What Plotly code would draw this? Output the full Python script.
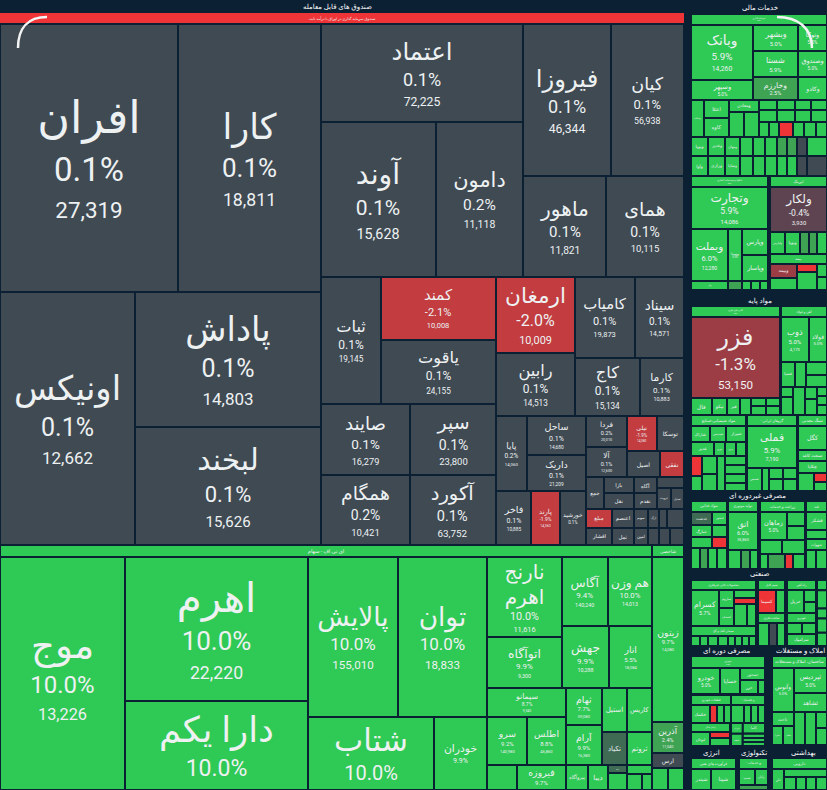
import math
import plotly.graph_objects as go

W = 827
H = 790
BG = "#0b2033"
TXT = "#eef1f2"
FONT = "Roboto, DejaVu Sans, sans-serif"

# funds, top left block
FUND_BAND_NAME = ["صندوق سرمایه گذاری در اوراق با درآمد ثابت"]
FUND_PATH = ["000", "001", "010", "0110", "0111",
             "1000", "10010", "10011", "10100", "10101", "10110", "10111",
             "11000", "110010", "110011", "110100", "110101", "110110", "110111",
             "111000", "111001", "1110100", "1110101", "1110110", "1110111",
             "1111000", "11110010", "11110011", "1111010", "1111011", "1111012",
             "11111000", "11111001", "111110100", "111110101", "111110110", "111110111",
             "1111110", "11111110", "11111111", "11111120", "11111121", "11111130", "111111310", "111111311",
             "11111200", "11111201", "11111210", "11111211", "11111220", "11111221", "11111230", "11111231",
             "111112400", "111112401", "111112410", "111112411"]
FUND_AREA = [47704, 38324, 34155, 25110, 21948,
             19796, 17825, 13485, 13376, 11096, 8383, 7878,
             7620, 7245, 7360, 6319, 6230, 6106, 6020,
             6004, 4977, 4860, 3969, 3770, 2552,
             2325, 2301, 2124, 1890, 1566, 1404,
             1271, 1230, 1050, 945, 858, 624,
             576, 480, 480, 368, 368, 297, 294, 273,
             494, 442, 418, 374, 266, 238, 209, 187,
             152, 323, 187, 238]
FUND_NAME = ["افران", "کارا", "اونیکس", "پاداش", "لبخند",
             "اعتماد", "آوند", "دامون", "فیروزا", "کیان", "ماهور", "همای",
             "ثبات", "کمند", "یاقوت", "صایند", "همگام", "سپر", "آکورد",
             "ارمغان", "رابین", "کامیاب", "سیناد", "کاج", "کارما",
             "پایا", "ساحل", "داریک", "فاخر", "پارند", "خورشید",
             "فردا", "آلا", "نیلی", "توسکا", "اصیل", "نفقی",
             "جمع", "بازا", "نقل", "آگاه", "نقدم", "", "ثروت", "تعدیل",
             "مبلغ", "افشار", "اعتصم", "ثمل", "سهیم", "امین", "ارگ", "", "", "", "", ""]
FUND_CHANGE = [0.1, 0.1, 0.1, 0.1, 0.1,
               0.1, 0.1, 0.2, 0.1, 0.1, 0.1, 0.1,
               0.1, -2.1, 0.1, 0.1, 0.2, 0.1, 0.1,
               -2.0, 0.1, 0.1, 0.1, 0.1, 0.1,
               0.2, 0.1, 0.1, 0.1, -1.9, 0.1,
               0.2, 0.1, -1.9, 0.1, 0.1, -1.9,
               0.1, 0.1, 0.1, 0.1, 0.1, 0.1, 0.1, 0.1,
               -1.9, 0.1, 0.1, 0.1, 0.1, 0.1, 0.1, 0.1, 0.1, 0.1, 0.1, 0.1]
FUND_VOLUME = [27319, 18811, 12662, 14803, 15626,
               72225, 15628, 11118, 46344, 56938, 11821, 10115,
               19145, 10008, 24155, 16279, 10421, 23800, 63752,
               10009, 14513, 19873, 14571, 15134, 10883,
               14060, 14680, 21209, 10885, 14360, 0,
               20010, 12600, 14380, 0, 0, 0] + [0] * 20
FUND_PX = [33, 26, 25, 25, 22,
           18, 21, 15.5, 18, 13, 15, 14,
           12, 11, 12, 13.5, 14, 14, 14.5,
           16, 12, 11, 10, 12, 8,
           6.5, 7, 7, 7, 5, 5.5,
           5.5, 5.5, 4.5, 4.5, 4.5, 4.5] + [4] * 20

# equity ETFs, bottom left block
ETF_PATH = ["00", "010", "0110", "0111", "01200", "01201", "01210", "01211",
            "013000", "013001", "0130100", "0130101", "0130110", "0130111",
            "013100", "0131010", "0131011", "013110", "013111", "0131200", "0131201", "0131210", "0131211",
            "01320", "01321", "01322", "01323", "013240", "013241", "013250", "0132510", "0132511",
            "10", "11", "12", "13", "140", "141"]
ETF_AREA = [7824, 29125, 26352, 16287, 14400, 14240, 9198, 3869,
            6000, 3825, 3174, 3036, 2914, 2666,
            2291, 1920, 1872, 1332, 1440, 1100, 1100, 825, 825,
            750, 1225, 550, 500, 152, 323, 225, 240, 160,
            384, 5280, 992, 480, 352, 352]
ETF_NAME = ["ای تی اف - سهام", "موج", "اهرم", "دارا یکم", "پالایش", "توان", "شتاب", "خودران",
            "نارنج|اهرم", "اتوآگاه", "آگاس", "هم وزن", "جهش", "انار",
            "سیمانو", "سرو", "اطلس", "ثهام", "آرام", "استیل", "کاریس", "تکیاد", "ثروتم",
            "", "فیروزه", "پیروآگاه", "دیبا", "بیمه", "", "", "", "",
            "شاخصی", "زیتون", "آذرین", "ارس", "", ""]
ETF_CHANGE = [10.0, 10.0, 10.0, 10.0, 10.0, 10.0, 10.0, 9.9,
              10.0, 9.9, 9.4, 10.0, 9.9, 5.5,
              8.7, 9.2, 8.8, 7.7, 9.9, 9.0, 9.0, 0.9, 5.0,
              9.0, 9.7, 8.0, 8.0, 0.9, 8.0, 8.0, 8.0, 8.0,
              9.0, 9.7, 2.4, 0.1, 8.0, 8.0]
ETF_VOLUME = [0, 13226, 22220, 0, 155010, 18833, 0, 0,
              11616, 9300, 140240, 14013, 10288, 18084,
              9340, 140980, 46860, 59080, 16380, 0, 0, 0, 0,
              0, 0, 0, 0, 0, 0, 0, 0, 0,
              0, 14080, 11040, 0, 0, 0]
ETF_PX = [4.5, 24, 26, 23, 17, 17, 20, 7,
          12, 8, 8, 8, 8, 6,
          5, 6, 6, 6, 6, 4.5, 4.5, 4.5, 4.5,
          4, 6.5, 4.5, 4.5, 3.5, 4, 4, 4, 4,
          4, 6, 5.5, 4, 4, 4]

# financial services column
INVEST_PATH = ["00", "0100", "0101", "0110", "0111", "0112", "0120", "0121", "0122",
               "020", "0210", "0211", "0220", "02210", "02211",
               "02300", "02301", "02302", "02303", "02310", "02311", "02312", "02313",
               "02320", "02321", "02322", "02323", "02324", "02325",
               "030", "031", "032", "033", "034", "035", "036", "037", "038", "039",
               "040", "041", "042", "043", "044", "045", "046", "047", "048", "049"]
INVEST_AREA = [1496, 3410, 1240, 1170, 1170, 1035, 754, 754, 667,
               481, 450, 475, 360, 375, 375,
               180, 180, 160, 160, 216, 216, 192, 192,
               150, 150, 210, 165, 180, 165,
               323, 323, 285, 247, 228, 228, 190, 190, 190, 380,
               340, 340, 300, 260, 240, 240, 200, 200, 200, 400]
INVEST_NAME = ["سرمایه گذاری", "وبانک", "وسپهر", "وبشهر", "شستا", "وخارزم", "وتوکا", "وصندوق", "وکادو",
               "وسکاب", "اعتلا", "کاوه", "ومعادن", "", "",
               "", "", "", "", "", "", "", "", "", "", "", "", "", "",
               "وپویا", "وغدیر", "ومهان", "", "", "", "", "", "", "",
               "وآوا", "ورازی", "وساپا", "", "", "", "", "", "", ""]
INVEST_CHANGE = [5.0, 5.9, 5.0, 5.0, 5.9, 2.5, 5.0, 5.0, 5.0,
                 5.0, 5.0, 5.0, 5.0, 5.0, 5.0,
                 5.0, 5.0, 5.0, 5.0, 5.0, 5.0, 5.0, 5.0,
                 5.0, 5.0, -4.0, 5.0, 5.0, 5.0,
                 5.0, 5.0, 5.0, 5.0, 5.0, 5.0, 2.5, 2.5, 0.1, 5.0,
                 5.0, 5.0, 5.0, 5.0, 5.0, 5.0, 5.0, 5.0, 0.1, 0.1]
INVEST_VOLUME = [0, 14260] + [0] * 47

BANK_PATH = ["00", "01", "020", "021", "0220", "0221", "030", "031", "032", "033", "034"]
BANK_AREA = [847, 3234, 1924, 728, 676, 676, 333, 126, 81, 81, 72]
BANK_NAME = ["بانکها و موسسات اعتباری", "وتجارت", "وبملت", "وسینا", "وپارس", "وپاسار", "وکار", "", "", "", ""]
BANK_CHANGE = [5.0, 5.9, 6.0, 5.0, 5.0, 5.0, 5.0, 2.5, 5.0, 5.0, 5.0]
BANK_VOLUME = [0, 14086, 12280, 0, 0, 0, 0, 0, 0, 0, 0]

LEASE_PATH = ["00", "01", "020", "021", "022", "023", "024"]
LEASE_AREA = [627, 2565, 330, 330, 198, 176, 220]
LEASE_NAME = ["لیزینگ", "ولکار", "ولپارس", "وپویا", "", "", ""]
LEASE_CHANGE = [5.0, -0.4, 5.0, 5.0, 2.5, 2.5, 5.0]
LEASE_VOLUME = [0, 3930, 0, 0, 0, 0, 0]

INSURE_PATH = ["00", "0100", "0101", "0110", "0111", "0120", "0121"]
INSURE_AREA = [570, 378, 324, 160, 360, 130, 130]
INSURE_NAME = ["بیمه", "وبیمه", "", "", "", "", ""]
INSURE_CHANGE = [5.0, -1.3, 5.0, -4.0, 5.0, 5.0, 5.0]

# basic materials
ORE_PATH = ["00", "01", "020", "021", "022", "023", "02400", "02401", "02410", "02411"]
ORE_AREA = [979, 7209, 357, 255, 221, 187, 120, 112, 135, 126]
ORE_NAME = ["کانی های فلزی", "فزر", "فال", "تپکو", "فبر", "", "", "", "", ""]
ORE_CHANGE = [5.0, -1.3, 5.0, 5.0, 5.0, 5.0, 5.0, 5.0, 5.0, 5.0]
ORE_VOLUME = [0, 53150, 0, 0, 0, 0, 0, 0, 0, 0]
ORE_PX = [5.5, 17, 4, 4, 4, 4, 4, 4, 4, 4]

STEEL_PATH = ["00", "010", "011", "020", "021", "0220", "0221",
              "0300", "0301", "031", "0320", "0321", "0330", "0331", "0332"]
STEEL_AREA = [506, 1260, 810, 350, 275, 273, 252, 120, 216, 336, 144, 192, 90, 90, 100]
STEEL_NAME = ["آهن و فولاد", "ذوب", "فولاد", "فسپا", "", "", "", "", "", "", "", "", "", "", ""]
STEEL_CHANGE = [5.0] * 15
STEEL_VOLUME = [0, 4170] + [0] * 13

CHEM_PATH = ["00", "010", "011", "012", "020", "021", "022", "023",
             "0300", "0301", "0310", "0311", "032", "0330", "0331", "0332", "0333"]
CHEM_AREA = [605, 304, 256, 320, 322, 154, 154, 140, 220, 165, 270, 255, 280, 189, 189, 189, 168]
CHEM_NAME = ["مواد شیمیایی-صنایع", "شاراک", "شپدیس", "شیراز", "غدیر", "نوری", "پترول", "",
             "", "", "", "", "", "", "", "", ""]
CHEM_CHANGE = [5.0, 5.0, 5.0, 5.0, 5.0, 5.0, 5.0, 5.0, -4.0, 5.0, 5.0, 5.0, 5.0, 5.0, 5.0, 5.0, 5.0]

METAL_PATH = ["00", "01", "020", "021", "0220", "0221", "0230", "0231"]
METAL_AREA = [550, 2100, 345, 161, 154, 168, 154, 168]
METAL_NAME = ["- گروهای ایرانی", "فملی", "شمس", "", "", "", "", ""]
METAL_CHANGE = [5.0, 5.9, 5.0, 5.0, 5.0, 5.0, 5.0, 5.0]
METAL_VOLUME = [0, 7190, 0, 0, 0, 0, 0, 0]

MINE_PATH = ["00", "01", "02", "03", "040", "0410", "0411"]
MINE_AREA = [319, 696, 319, 348, 288, 117, 117]
MINE_NAME = ["سنگ معدنی", "کگل", "صنعت کاغذ", "چکاپا", "", "", ""]
MINE_CHANGE = [5.0, 5.0, 5.0, 5.0, 5.0, -4.0, 5.0]

# non cyclical consumer
FOOD_PATH = ["00", "010", "011", "020", "021", "030", "031", "040", "041", "042", "043"]
FOOD_AREA = [396, 273, 195, 252, 180, 231, 165, 189, 168, 189, 210]
FOOD_NAME = ["مواد غذایی", "غدشت", "غبشهر", "غمارگ", "", "", "", "", "", "", ""]
FOOD_CHANGE = [5.0, 1.0, 5.0, 5.0, 5.0, 5.0, -4.0, 5.0, 2.5, 5.0, 5.0]

AUTO_PATH = ["00", "01", "020", "021", "022"]
AUTO_AREA = [330, 1140, 247, 171, 152]
AUTO_NAME = ["تولید موتوری", "اتق", "", "", ""]
AUTO_CHANGE = [5.0, 6.0, 5.0, 2.5, 5.0]
AUTO_VOLUME = [0, 35860, 0, 0, 0]

FARM_PATH = ["00", "010", "0110", "0111", "020", "021", "030", "031", "032", "033"]
FARM_AREA = [495, 756, 252, 252, 308, 322, 120, 255, 120, 180]
FARM_NAME = ["زراعت و خدمات", "زماهان", "", "", "", "", "", "", "", ""]
FARM_CHANGE = [5.0, 5.0, 5.0, 5.0, 5.0, 5.0, 5.0, 2.5, -4.0, 5.0]

SUGAR_PATH = ["00", "01", "02", "03", "040", "041"]
SUGAR_AREA = [231, 378, 189, 231, 190, 209]
SUGAR_NAME = ["قند", "قشکر", "", "شهوات", "", ""]
SUGAR_CHANGE = [5.0] * 6

# industrial
CERAMIC_PATH = ["00", "010", "0110", "0111", "0120", "0121", "01220", "01221"]
CERAMIC_AREA = [650, 1008, 270, 270, 176, 132, 286, 198]
CERAMIC_NAME = ["محصولات کانی غیرفلزی", "کسرام", "ساروم", "کصدف", "", "", "", ""]
CERAMIC_CHANGE = [5.0, 5.7, 5.0, 5.0, 5.0, -4.0, 5.0, 5.0]

CEMENT_PATH = ["00", "010", "011", "012", "013", "014", "015", "016", "017"]
CEMENT_AREA = [650, 90, 80, 100, 100, 70, 70, 70, 70]
CEMENT_NAME = ["سیمان آهک و گچ", "", "", "", "", "", "", "", ""]
CEMENT_CHANGE = [5.0] * 9

CABLE_PATH = ["00", "010", "011"]
CABLE_AREA = [270, 414, 207]
CABLE_NAME = ["سیم کابل", "کسیما", ""]
CABLE_CHANGE = [5.0, -3.5, 5.0]

BUILD_PATH = ["00", "010", "011", "012"]
BUILD_AREA = [270, 253, 184, 184]
BUILD_NAME = ["ساخت فلزی", "", "", ""]
BUILD_CHANGE = [5.0, 5.0, 0.1, 5.0]

RAIL_PATH = ["00", "010", "0110", "0111"]
RAIL_AREA = [290, 391, 144, 132]
RAIL_NAME = ["راه آهن", "حریل", "", ""]
RAIL_CHANGE = [5.0] * 4

ENGINE_PATH = ["00", "010", "011", "02"]
ENGINE_AREA = [290, 165, 154, 348]
ENGINE_NAME = ["خودرو", "", "", "سرامیک"]
ENGINE_CHANGE = [5.0] * 4

EDGE_PATH = ["00", "01", "02", "03", "04"]
EDGE_AREA = [100, 180, 100, 140, 130]
EDGE_NAME = ["", "", "", "", ""]
EDGE_CHANGE = [5.0] * 5

# cyclical consumer
CAR_PATH = ["00", "010", "011", "0120", "01210", "01211"]
CAR_AREA = [888, 754, 520, 300, 252, 98]
CAR_NAME = ["خودرو", "خودرو", "خساپا", "خمحور", "خزر", ""]
CAR_CHANGE = [5.0] * 6

PART_PATH = ["00", "010", "011", "012", "013"]
PART_AREA = [400, 342, 126, 126, 126]
PART_NAME = ["قطعات خودرو", "خکمک", "", "", ""]
PART_CHANGE = [5.0, 5.0, -4.0, 5.0, 5.0]

RUBBER_PATH = ["00", "010", "011", "012", "013"]
RUBBER_AREA = [340, 234, 126, 126, 126]
RUBBER_NAME = ["- و پلاستیک", "", "", "", ""]
RUBBER_CHANGE = [5.0] * 5

HOME_PATH = ["00", "010", "0110", "0111"]
HOME_AREA = [351, 266, 120, 160]
HOME_NAME = ["وسایل خانگی", "لبوتان", "", ""]
HOME_CHANGE = [5.0, 5.0, -4.0, 5.0]

TILE_PATH = ["000", "001", "010", "0110", "0111", "0112"]
TILE_AREA = [128, 240, 144, 90, 90, 90]
TILE_NAME = ["دوران", "کاما", "سفید", "", "", ""]
TILE_CHANGE = [5.0] * 6

ESTATE_PATH = ["00", "010", "0110", "0111", "0200", "02010", "02011", "021", "022", "0230", "0231"]
ESTATE_AREA = [660, 968, 825, 627, 308, 209, 209, 363, 363, 176, 187]
ESTATE_NAME = ["ساختمان، املاک و مستغلات", "وآتوس", "ثپردیس", "ثشاهد", "ثاخت", "ثعمرا", "ثنظام", "", "", "", ""]
ESTATE_CHANGE = [5.0] * 11

# energy, technology, health
OIL_PATH = ["00", "010", "011"]
OIL_AREA = [495, 420, 525]
OIL_NAME = ["فرآورده های نفتی", "شبندر", "شپنا"]
OIL_CHANGE = [5.0] * 3

TECH_PATH = ["00", "010", "011", "02"]
TECH_AREA = [319, 256, 208, 145]
TECH_NAME = ["- و خدمات", "سپ", "رایان", ""]
TECH_CHANGE = [5.0, 5.0, 5.0, 2.5]

PHARMA_PATH = ["00", "010", "0110", "01110", "01111", "01112", "01113"]
PHARMA_AREA = [605, 252, 344, 156, 130, 130, 143]
PHARMA_NAME = ["دارویی", "دلر", "", "", "", "", ""]
PHARMA_CHANGE = [5.0] * 7

SECTION_TITLE = ["صندوق های قابل معامله", "خدمات مالی", "مواد پایه", "مصرفی غیردوره ای", "صنعتی",
                 "مصرفی دوره ای", "املاک و مستغلات", "انرژی", "تکنولوژی", "بهداشتی"]
TITLE_XY = [(337, 7), (760, 8), (760, 301), (757, 496), (759, 574),
            (727, 651), (800, 651), (711, 753), (754, 753), (803, 753)]


def tile_color(change):
    if change <= -3:
        return "#ee3437"
    if change <= -1.7:
        return "#c23c40"
    if change <= -1:
        return "#9c3c44"
    if change <= -0.3:
        return "#5e4450"
    if change <= 0.3:
        return "#3f4a53"
    if change <= 1.5:
        return "#3f6b55"
    if change <= 3:
        return "#3ea453"
    return "#2fc955"


def tile_text(name, change, volume, pct_px, name_k):
    if not name:
        return ""
    parts = name.split("|")
    if len(parts) > 1:
        # two line names: raise the first line, the line step is fixed by plotly
        lines = [f'<span style="font-size:{pct_px * name_k * 1.2:.1f}px;baseline-shift:{pct_px * 0.9:.1f}px">{parts[0]}</span>',
                 f'<span style="font-size:{pct_px * name_k * 1.2:.1f}px">{parts[1]}</span>']
    else:
        lines = [f'<span style="font-size:{pct_px * name_k:.1f}px">{name}</span>']
    if pct_px >= 3.4 and (volume or pct_px > 4.5):
        lines.append(f'<span style="font-size:{pct_px:.1f}px">{change:.1f}%</span>')
    if volume:
        # tighter gap under the percent
        lines.append(f'<span style="font-size:{pct_px * 0.68:.1f}px;baseline-shift:{pct_px * 0.33:.1f}px">{volume:,}</span>')
    return "<br>".join(lines)


def add_block(fig, box, paths, areas, names, changes, volumes=None, sizes=None, line=2, name_k=1.4):
    x0, y0, x1, y1 = box
    volumes = volumes or [0] * len(paths)
    ids, parents, values, colors, texts, lsize = ["r"], [""], [0], [BG], [""], [6]
    seen = {"r"}
    for i, path in enumerate(paths):
        for k in range(1, len(path)):
            node = "r" + path[:k]
            if node not in seen:
                seen.add(node)
                ids.append(node)
                parents.append(node[:-1])
                values.append(0)
                colors.append(BG)
                texts.append("")
                lsize.append(6)
        px = sizes[i] if sizes else min(16, 0.17 * math.sqrt(areas[i]))
        ids.append("r" + path)
        parents.append(("r" + path)[:-1])
        values.append(areas[i])
        colors.append(tile_color(changes[i]))
        texts.append(tile_text(names[i], changes[i], volumes[i], px, name_k))
        lsize.append(px * 1.12)
    fig.add_trace(go.Treemap(
        ids=ids,
        labels=ids,
        parents=parents,
        values=values,
        text=texts,
        textinfo="text",
        branchvalues="remainder",
        sort=False,
        hoverinfo="skip",
        textposition="middle center",
        tiling=dict(packing="slice-dice", pad=0),
        pathbar=dict(visible=False),
        root=dict(color=BG),
        marker=dict(colors=colors, line=dict(color=BG, width=line),
                    pad=dict(t=0, l=0, r=0, b=0), depthfade=False),
        textfont=dict(family=FONT, color=TXT, size=lsize),
        domain=dict(x=[x0 / W, x1 / W], y=[1 - y1 / H, 1 - y0 / H]),
    ))


fig = go.Figure()

add_block(fig, (0, 13, 684, 24), ["00"], [7524], FUND_BAND_NAME, [-4.0], sizes=[4.2], line=0)
add_block(fig, (0, 24, 684, 545), FUND_PATH, FUND_AREA, FUND_NAME, FUND_CHANGE, FUND_VOLUME, FUND_PX, name_k=1.35)
add_block(fig, (0, 545, 684, 790), ETF_PATH, ETF_AREA, ETF_NAME, ETF_CHANGE, ETF_VOLUME, ETF_PX, name_k=1.55)

add_block(fig, (691, 14, 827, 176), INVEST_PATH, INVEST_AREA, INVEST_NAME, INVEST_CHANGE, INVEST_VOLUME)
add_block(fig, (691, 176, 768, 290), BANK_PATH, BANK_AREA, BANK_NAME, BANK_CHANGE, BANK_VOLUME)
add_block(fig, (770, 176, 827, 254), LEASE_PATH, LEASE_AREA, LEASE_NAME, LEASE_CHANGE, LEASE_VOLUME)
add_block(fig, (770, 254, 827, 290), INSURE_PATH, INSURE_AREA, INSURE_NAME, INSURE_CHANGE)

add_block(fig, (691, 306, 780, 415), ORE_PATH, ORE_AREA, ORE_NAME, ORE_CHANGE, ORE_VOLUME, ORE_PX)
add_block(fig, (781, 306, 827, 415), STEEL_PATH, STEEL_AREA, STEEL_NAME, STEEL_CHANGE, STEEL_VOLUME)
add_block(fig, (691, 415, 746, 491), CHEM_PATH, CHEM_AREA, CHEM_NAME, CHEM_CHANGE)
add_block(fig, (747, 415, 797, 491), METAL_PATH, METAL_AREA, METAL_NAME, METAL_CHANGE, METAL_VOLUME)
add_block(fig, (798, 415, 827, 491), MINE_PATH, MINE_AREA, MINE_NAME, MINE_CHANGE)

add_block(fig, (691, 501, 727, 569), FOOD_PATH, FOOD_AREA, FOOD_NAME, FOOD_CHANGE)
add_block(fig, (728, 501, 758, 569), AUTO_PATH, AUTO_AREA, AUTO_NAME, AUTO_CHANGE, AUTO_VOLUME)
add_block(fig, (760, 501, 805, 569), FARM_PATH, FARM_AREA, FARM_NAME, FARM_CHANGE)
add_block(fig, (806, 501, 827, 569), SUGAR_PATH, SUGAR_AREA, SUGAR_NAME, SUGAR_CHANGE)

add_block(fig, (691, 580, 756, 626), CERAMIC_PATH, CERAMIC_AREA, CERAMIC_NAME, CERAMIC_CHANGE)
add_block(fig, (691, 626, 756, 646), CEMENT_PATH, CEMENT_AREA, CEMENT_NAME, CEMENT_CHANGE)
add_block(fig, (758, 580, 785, 613), CABLE_PATH, CABLE_AREA, CABLE_NAME, CABLE_CHANGE)
add_block(fig, (758, 613, 785, 646), BUILD_PATH, BUILD_AREA, BUILD_NAME, BUILD_CHANGE)
add_block(fig, (787, 580, 816, 613), RAIL_PATH, RAIL_AREA, RAIL_NAME, RAIL_CHANGE)
add_block(fig, (787, 613, 816, 646), ENGINE_PATH, ENGINE_AREA, ENGINE_NAME, ENGINE_CHANGE)
add_block(fig, (817, 580, 827, 646), EDGE_PATH, EDGE_AREA, EDGE_NAME, EDGE_CHANGE)

add_block(fig, (691, 656, 765, 694), CAR_PATH, CAR_AREA, CAR_NAME, CAR_CHANGE)
add_block(fig, (691, 695, 731, 723), PART_PATH, PART_AREA, PART_NAME, PART_CHANGE)
add_block(fig, (731, 695, 765, 723), RUBBER_PATH, RUBBER_AREA, RUBBER_NAME, RUBBER_CHANGE)
add_block(fig, (691, 723, 730, 746), HOME_PATH, HOME_AREA, HOME_NAME, HOME_CHANGE)
add_block(fig, (731, 723, 765, 746), TILE_PATH, TILE_AREA, TILE_NAME, TILE_CHANGE)
add_block(fig, (772, 656, 827, 745), ESTATE_PATH, ESTATE_AREA, ESTATE_NAME, ESTATE_CHANGE)

add_block(fig, (691, 758, 736, 790), OIL_PATH, OIL_AREA, OIL_NAME, OIL_CHANGE)
add_block(fig, (739, 758, 768, 790), TECH_PATH, TECH_AREA, TECH_NAME, TECH_CHANGE)
add_block(fig, (772, 758, 827, 790), PHARMA_PATH, PHARMA_AREA, PHARMA_NAME, PHARMA_CHANGE)

for title, (tx, ty) in zip(SECTION_TITLE, TITLE_XY):
    fig.add_annotation(x=tx / W, y=1 - ty / H, xref="paper", yref="paper", text=title,
                       xanchor="center", yanchor="middle", showarrow=False,
                       font=dict(family=FONT, size=7, color="#ffffff"))


def px_path(points):
    (ax, ay), (bx, by), (cx, cy), (dx, dy) = points
    fx = lambda v: v / W
    fy = lambda v: 1 - v / H
    return f"M {fx(ax)} {fy(ay)} C {fx(bx)} {fy(by)} {fx(cx)} {fy(cy)} {fx(dx)} {fy(dy)}"


# white rounded marks from the phone screenshot
for arc in ([(18, 48), (18, 28), (28, 17), (47, 17)], [(777, 17), (798, 17), (812, 28), (812, 48)]):
    fig.add_shape(type="path", path=px_path(arc), xref="paper", yref="paper",
                  line=dict(color="#f4f4f4", width=2.5))

fig.update_layout(
    width=W,
    height=H,
    margin=dict(l=0, r=0, t=0, b=0),
    paper_bgcolor=BG,
    showlegend=False,
    font=dict(family=FONT, color=TXT),
)

fig.write_html("out.html", config={"displayModeBar": False},
               post_script="document.body.style.margin='0';")
